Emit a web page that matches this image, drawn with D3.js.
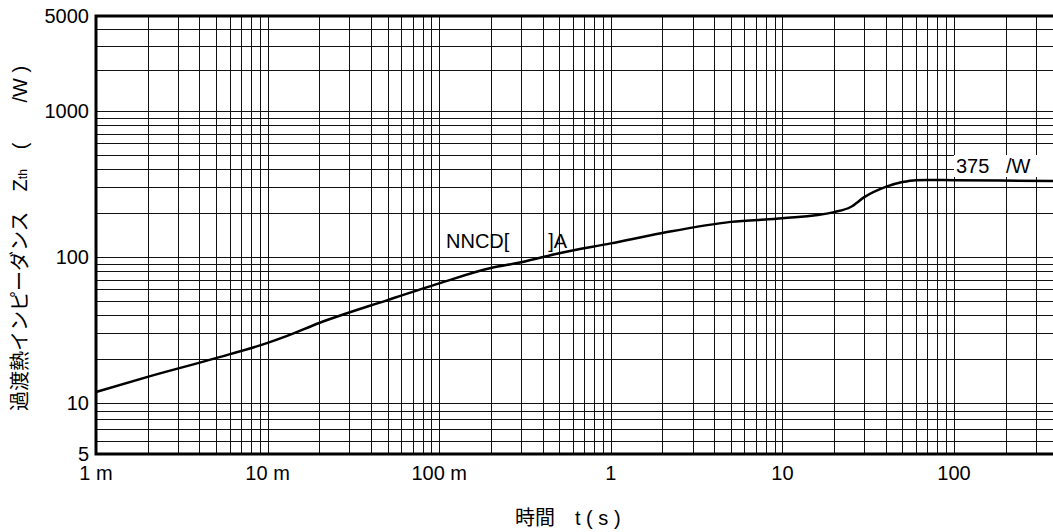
<!DOCTYPE html>
<html>
<head>
<meta charset="utf-8">
<script src="https://cdn.jsdelivr.net/npm/d3@7"></script>
<style>
  body { margin: 0; background: #fff; }
  svg { display: block; font-family: "Liberation Sans", Arial, "Noto Sans CJK JP", sans-serif; }
  .grid line { stroke: #111; stroke-width: 1; shape-rendering: crispEdges; }
  .lbl { font-size: 20px; fill: #000; }
</style>
</head>
<body>
<svg class="rootSvg" width="1053" height="532"></svg>
<script>
// time (s) and thermal impedance values
var timeS = [0.001, 0.002, 0.005, 0.01, 0.013, 0.02, 0.05, 0.1, 0.2, 0.3, 0.5, 1, 2, 5, 10, 20, 25, 30, 40, 50, 60, 70, 100, 400];
var zth = [11.9, 15.1, 20.3, 25.8, 28.8, 35.3, 50.7, 66, 84, 92, 106, 124, 146, 174, 184, 203, 220, 257, 302, 326, 336, 337, 336, 331];

var xTicks = [0.001, 0.01, 0.1, 1, 10, 100];
var xTickLabels = ['1 m', '10 m', '100 m', '1', '10', '100'];
var yTicks = [5, 10, 100, 1000, 5000];
var yTickLabels = ['5', '10', '100', '1000', '5000'];

var padLeft = 96, padTop = 16, padBottom = 454, decade = 171.6;

var svg = d3.select('.rootSvg');

var x = d3.scaleLog()
    .domain([0.001, 1000])
    .range([padLeft, padLeft + 6 * decade]);

// the printed sheet has uneven decades, so pin each labelled value
var y = d3.scaleLog()
    .domain([5, 10, 100, 1000, 5000])
    .range([padBottom, 403, 257, 111, padTop]);

// grid values
var xGrid = [];
for (var e = -3; e < 3; e++) {
    for (var m = 1; m <= 9; m++) {
        xGrid.push(m * Math.pow(10, e));
    }
}
xGrid.push(1000);

var yGrid = [];
for (var e2 = 0; e2 < 3; e2++) {
    for (var m2 = 1; m2 <= 9; m2++) {
        var v = m2 * Math.pow(10, e2);
        if (v >= 5) yGrid.push(v);
    }
}
yGrid.push(1000, 2000, 3000, 4000, 5000);

var grid = svg.append('g').attr('class', 'grid');

grid.selectAll('.vline')
    .data(xGrid)
    .enter()
    .append('line')
        .attr('class', 'vline')
        .attr('x1', function (d) { return Math.round(x(d)) + 0.5; })
        .attr('x2', function (d) { return Math.round(x(d)) + 0.5; })
        .attr('y1', padTop)
        .attr('y2', padBottom);

grid.selectAll('.hline')
    .data(yGrid)
    .enter()
    .append('line')
        .attr('class', 'hline')
        .attr('x1', padLeft)
        .attr('x2', 1053)
        .attr('y1', function (d) { return Math.round(y(d)) + 0.5; })
        .attr('y2', function (d) { return Math.round(y(d)) + 0.5; });

// frame
svg.append('path')
    .attr('d', 'M1053,' + padTop + 'H' + padLeft + 'V' + padBottom + 'H1053')
    .attr('fill', 'none')
    .attr('stroke', '#000')
    .attr('stroke-width', 3);

// label boxes
svg.append('rect')
    .attr('x', 954).attr('y', 155)
    .attr('width', 99).attr('height', 22)
    .attr('fill', '#fff');

svg.append('text')
    .attr('class', 'lbl')
    .attr('x', 956).attr('y', 173)
    .text('375\u00a0\u00a0\u00a0/W');

svg.append('text')
    .attr('class', 'lbl')
    .attr('x', 446).attr('y', 248)
    .text('NNCD[\u00a0\u00a0\u00a0\u00a0\u00a0\u00a0\u00a0]A');

// curve
var line = d3.line()
    .x(function (d) { return x(d[0]); })
    .y(function (d) { return y(d[1]); })
    .curve(d3.curveMonotoneX);

svg.append('path')
    .datum(d3.zip(timeS, zth))
    .attr('d', line)
    .attr('fill', 'none')
    .attr('stroke', '#000')
    .attr('stroke-width', 2.5);

// tick labels
svg.selectAll('.xlab')
    .data(xTicks)
    .enter()
    .append('text')
        .attr('class', 'lbl xlab')
        .attr('x', function (d) { return x(d); })
        .attr('y', 480)
        .attr('text-anchor', 'middle')
        .text(function (d, i) { return xTickLabels[i]; });

svg.selectAll('.ylab')
    .data(yTicks)
    .enter()
    .append('text')
        .attr('class', 'lbl ylab')
        .attr('x', 89)
        .attr('y', function (d) { return y(d); })
        .attr('dy', '0.36em')
        .attr('text-anchor', 'end')
        .text(function (d, i) { return yTickLabels[i]; });

// axis titles
svg.append('text')
    .attr('class', 'lbl')
    .attr('x', 515).attr('y', 525)
    .text('時間\u3000t ( s )');

var yt = svg.append('text')
    .attr('class', 'lbl')
    .attr('transform', 'translate(27,411) rotate(-90)');
yt.append('tspan').text('過渡熱インピーダンス\u3000Z');
yt.append('tspan').attr('font-size', '12px').text('th');
yt.append('tspan').text('\u3000(\u3000\u3000/W )');
</script>
</body>
</html>
